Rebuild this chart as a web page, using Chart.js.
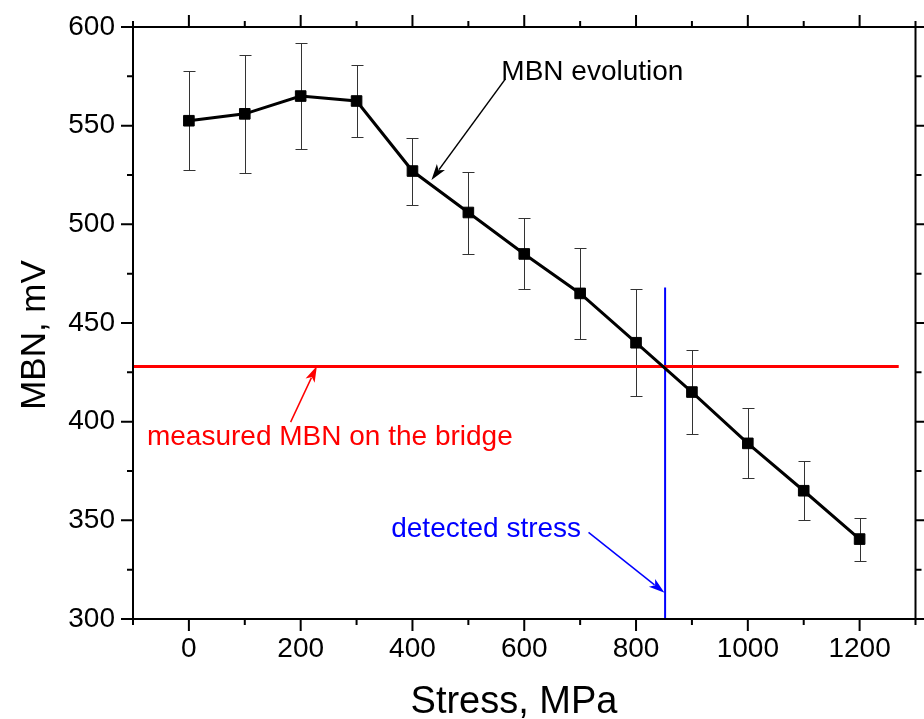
<!DOCTYPE html>
<html>
<head>
<meta charset="utf-8">
<script src="https://cdn.jsdelivr.net/npm/chart.js@4.4.0/dist/chart.umd.min.js"></script>
<style>
  html, body { margin: 0; padding: 0; background: #fff; }
  #wrap { width: 924px; height: 719px; }
</style>
</head>
<body>
<div id="wrap"><canvas id="chart" width="924" height="719"></canvas></div>
<script>
const stress = [0, 100, 200, 300, 400, 500, 600, 700, 800, 900, 1000, 1100, 1200];
const mbn = [552.5, 556, 565, 562.5, 527, 506, 485, 465, 440, 415, 389, 365, 340.5];
const errLow = [527.5, 526, 538, 544.5, 510, 485, 467, 442, 413, 394, 371.5, 350, 329.5];
const errHigh = [577.5, 586, 592, 580.5, 543.5, 526.5, 503, 488, 467, 436.5, 407, 380, 351];

// reference lines
const bridgeMBN = 428;
const bridgeSpan = [-100, 1270];
const detectedStress = 852;
const detectedSpan = [300, 468];

// axes
const xMajor = [0, 200, 400, 600, 800, 1000, 1200];
const xMinor = [-100, 100, 300, 500, 700, 900, 1100, 1300];
const yMajor = [300, 350, 400, 450, 500, 550, 600];
const yMinor = [325, 375, 425, 475, 525, 575];

const FONT = "'Liberation Sans', Arial, sans-serif";

// annotations, in data units
const notes = [
  { text: 'MBN evolution', color: '#000', at: [559, 573], from: [566, 573.6], to: [434, 522.5] },
  { text: 'measured MBN on the bridge', color: '#ff0000', at: [-75, 388], from: [182, 399.8], to: [229, 428.2] },
  { text: 'detected stress', color: '#0000ff', at: [362, 341.5], from: [715, 343.9], to: [851, 313.3] },
];

const errorBars = {
  id: 'errorBars',
  beforeDatasetsDraw(chart) {
    const { ctx, scales: { x, y } } = chart;
    ctx.save();
    ctx.strokeStyle = '#333';
    ctx.lineWidth = 1;
    ctx.beginPath();
    stress.forEach((s, i) => {
      const px = Math.round(x.getPixelForValue(s)) + 0.5;
      const t = Math.round(y.getPixelForValue(errHigh[i])) + 0.5;
      const b = Math.round(y.getPixelForValue(errLow[i])) + 0.5;
      ctx.moveTo(px, t); ctx.lineTo(px, b);
      ctx.moveTo(px - 6, t); ctx.lineTo(px + 6, t);
      ctx.moveTo(px - 6, b); ctx.lineTo(px + 6, b);
    });
    ctx.stroke();
    ctx.restore();
  }
};

function arrow(ctx, x1, y1, x2, y2, color) {
  const ang = Math.atan2(y2 - y1, x2 - x1);
  const len = 16, half = 5;
  const c = Math.cos(ang), s = Math.sin(ang);
  ctx.strokeStyle = color;
  ctx.fillStyle = color;
  ctx.lineWidth = 1.5;
  ctx.beginPath();
  ctx.moveTo(x1, y1);
  ctx.lineTo(x2 - c * len * 0.8, y2 - s * len * 0.8);
  ctx.stroke();
  ctx.beginPath();
  ctx.moveTo(x2, y2);
  ctx.lineTo(x2 - c * len + s * half, y2 - s * len - c * half);
  ctx.lineTo(x2 - c * len * 0.75, y2 - s * len * 0.75);
  ctx.lineTo(x2 - c * len - s * half, y2 - s * len + c * half);
  ctx.closePath();
  ctx.fill();
}

const extras = {
  id: 'extras',
  afterDraw(chart) {
    const { ctx, chartArea: a, scales: { x, y } } = chart;
    ctx.save();

    // frame with outward ticks on all four sides
    ctx.strokeStyle = '#000';
    ctx.lineWidth = 2;
    ctx.strokeRect(a.left, a.top, a.right - a.left, a.bottom - a.top);
    ctx.beginPath();
    const xt = (v, len) => {
      const px = x.getPixelForValue(v);
      ctx.moveTo(px, a.bottom); ctx.lineTo(px, a.bottom + len);
      ctx.moveTo(px, a.top); ctx.lineTo(px, a.top - len);
    };
    const yt = (v, len) => {
      const py = y.getPixelForValue(v);
      ctx.moveTo(a.left, py); ctx.lineTo(a.left - len, py);
      ctx.moveTo(a.right, py); ctx.lineTo(a.right + len, py);
    };
    xMajor.forEach(v => xt(v, 12));
    xMinor.forEach(v => xt(v, 6));
    yMajor.forEach(v => yt(v, 12));
    yMinor.forEach(v => yt(v, 6));
    ctx.stroke();

    // annotations
    ctx.font = '28px ' + FONT;
    ctx.textBaseline = 'alphabetic';
    ctx.textAlign = 'left';
    notes.forEach(n => {
      ctx.fillStyle = n.color;
      ctx.fillText(n.text, x.getPixelForValue(n.at[0]), y.getPixelForValue(n.at[1]));
      arrow(ctx,
        x.getPixelForValue(n.from[0]), y.getPixelForValue(n.from[1]),
        x.getPixelForValue(n.to[0]), y.getPixelForValue(n.to[1]), n.color);
    });

    // axis titles
    ctx.fillStyle = '#000';
    ctx.font = '38px ' + FONT;
    ctx.textAlign = 'center';
    ctx.fillText('Stress, MPa', a.left + 381, 713);
    ctx.translate(45, a.top + 308);
    ctx.rotate(-Math.PI / 2);
    ctx.font = '35px ' + FONT;
    ctx.fillText('MBN, mV', 0, 0);
    ctx.restore();
  }
};

new Chart(document.getElementById('chart'), {
  type: 'line',
  data: {
    datasets: [
      {
        data: stress.map((s, i) => ({ x: s, y: mbn[i] })),
        borderColor: '#000',
        borderWidth: 3,
        pointStyle: 'rect',
        pointRadius: 7.5,
        pointBackgroundColor: '#000',
        pointBorderColor: '#000',
        pointBorderWidth: 1,
        tension: 0,
      },
      {
        data: bridgeSpan.map(v => ({ x: v, y: bridgeMBN })),
        borderColor: '#ff0000',
        borderWidth: 3,
        pointRadius: 0,
      },
      {
        data: detectedSpan.map(v => ({ x: detectedStress, y: v })),
        borderColor: '#0000ff',
        borderWidth: 2,
        pointRadius: 0,
      },
    ]
  },
  options: {
    responsive: false,
    animation: false,
    devicePixelRatio: 1,
    layout: { padding: { top: 27, right: 6, left: 0, bottom: 0 } },
    plugins: { legend: { display: false }, tooltip: { enabled: false } },
    scales: {
      x: {
        type: 'linear',
        min: -100,
        max: 1300,
        afterBuildTicks: s => { s.ticks = xMajor.map(v => ({ value: v })); },
        afterFit: s => { s.height = 100; s.paddingLeft = 0; s.paddingRight = 0; },
        grid: { display: false, drawTicks: false },
        border: { display: false },
        ticks: { color: '#000', padding: 13, maxRotation: 0, callback: v => String(v), font: { size: 28, family: FONT } },
      },
      y: {
        min: 300,
        max: 600,
        afterBuildTicks: s => { s.ticks = yMajor.map(v => ({ value: v })); },
        afterFit: s => { s.width = 133; s.paddingTop = 0; s.paddingBottom = 0; },
        grid: { display: false, drawTicks: false },
        border: { display: false },
        ticks: { color: '#000', padding: 18, callback: v => String(v), font: { size: 28, family: FONT } },
      }
    }
  },
  plugins: [errorBars, extras]
});
</script>
</body>
</html>
